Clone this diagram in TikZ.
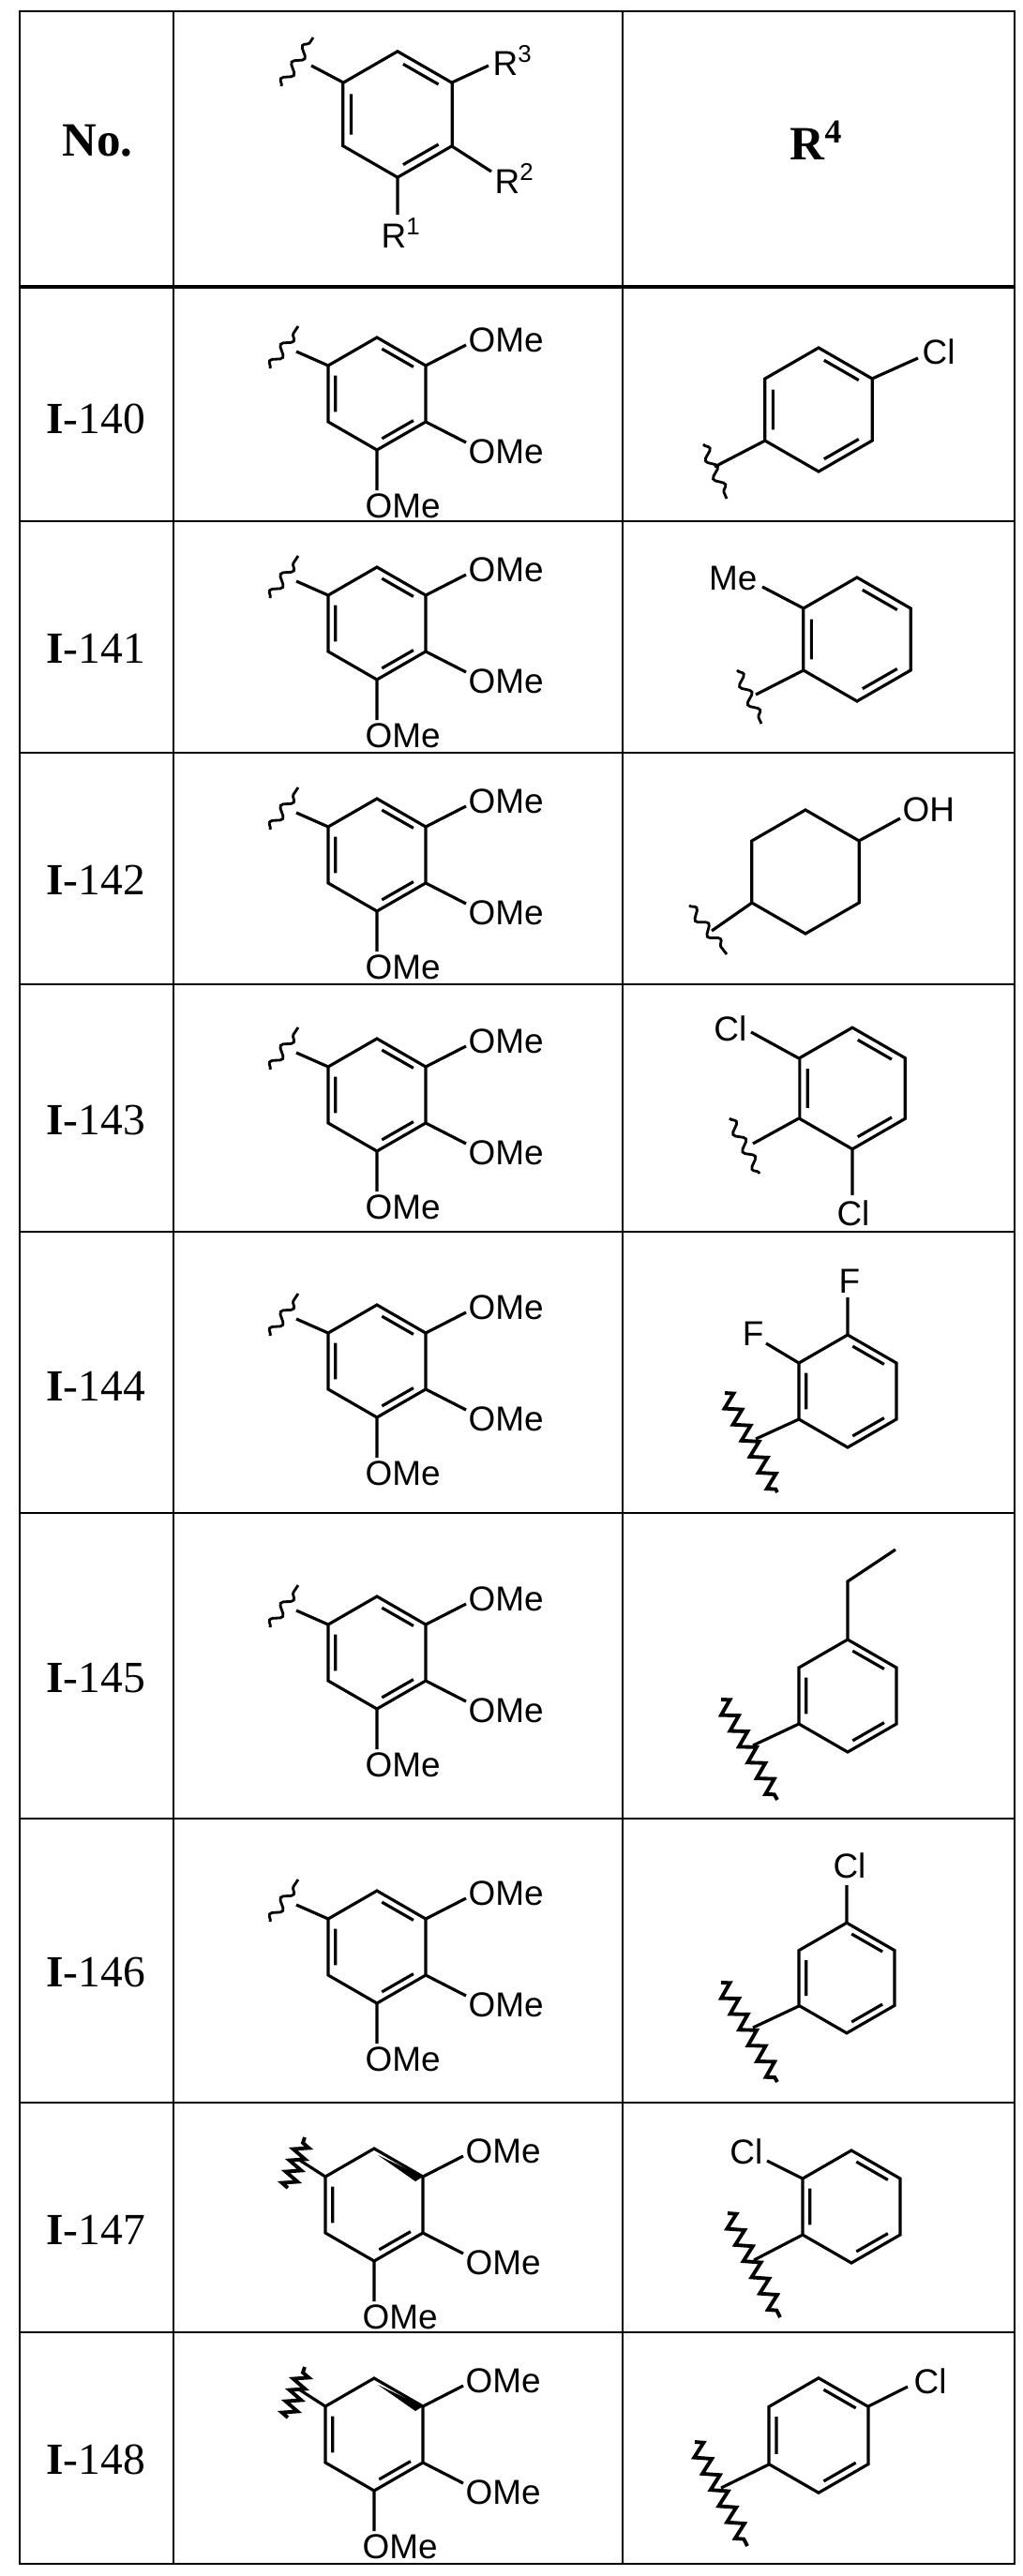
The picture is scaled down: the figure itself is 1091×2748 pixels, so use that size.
\documentclass[tikz,border=0pt]{standalone}
\usepackage{fontspec}
\setmainfont{Liberation Serif}
\newfontfamily\arfont{Liberation Sans}
\usetikzlibrary{decorations.pathmorphing}
\tikzset{
 bond/.style={line width=0.9pt,line join=miter},
 grid/.style={line width=0.7pt},
 chem/.style={font=\arfont\fontsize{10.5}{12}\selectfont,inner sep=0pt},
 lab/.style={font=\fontsize{13.5}{15}\selectfont,inner sep=0pt},
 head/.style={font=\bfseries\fontsize{14.5}{16}\selectfont,inner sep=0pt},
 wavy/.style={line width=0.8pt,decorate,decoration={snake,amplitude=1.4pt,segment length=6pt}},
 zz/.style={line width=1.1pt,decorate,decoration={zigzag,amplitude=2.3pt,segment length=5.5pt}},
 zzs/.style={line width=1.1pt,decorate,decoration={zigzag,amplitude=2.2pt,segment length=3.6pt}},
 ring/.pic={\draw[bond] (0,-60)--(52,-30)--(52,30)--(0,60)--(-52,30)--(-52,-30)--cycle;},
 benz/.pic={\draw[bond] (0,-60)--(52,-30)--(52,30)--(0,60)--(-52,30)--(-52,-30)--cycle;
   \draw[bond] (-44.2,-19.4)--(-44.2,19.4) (5.3,-47.9)--(38.9,-28.6) (38.9,28.6)--(5.3,47.9);},
 tmp/.pic={\pic {benz};
   \draw[bond] (52,-30)--(95,-52) (52,30)--(95,52) (0,60)--(0,103) (-52,-30)--(-86,-45);
   \draw[wavy] (-114,-27)--(-84,-72);
   \node[chem,anchor=west] (-a) at (97,-57) {OMe};
   \node[chem,anchor=west] (-b) at (97,62) {OMe};
   \node[chem,anchor=north west] (-c) at (-13,106) {OMe};},
 tmpb/.pic={\draw[bond] (0,-60)--(52,-30)--(52,30)--(0,60)--(-52,30)--(-52,-30)--cycle;
   \draw[bond] (-44.2,-19.4)--(-44.2,19.4) (38.9,28.6)--(5.3,47.9);
   \fill (4,-53)--(52,-30)--(44,-25)--cycle;
   \draw[bond] (52,-30)--(95,-52) (52,30)--(95,52) (0,60)--(0,103) (-52,-30)--(-80,-48);
   \draw[zzs] (-92,-18)--(-74,-72);
   \node[chem,anchor=west] (-a) at (97,-57) {OMe};
   \node[chem,anchor=west] (-b) at (97,62) {OMe};
   \node[chem,anchor=north west] (-c) at (-13,106) {OMe};}
}
\begin{document}
\begin{tikzpicture}[x=0.01cm,y=-0.01cm]
\useasboundingbox (0,0) rectangle (1091,2748);
% grid
\draw[grid] (21,12) rectangle (1082,2735);
\draw[grid] (185,12)--(185,2735) (664,12)--(664,2735);
\draw[line width=1.3pt] (21,306)--(1082,306);
\foreach \y in {556,803,1050,1314,1614,1940,2243,2488} \draw[grid] (21,\y)--(1082,\y);
% header
\node[head] (hno) at (104,150) {No.};
\node[head] (hr4) at (871,150) {R\textsuperscript{4}};
\pic[scale=1.12] (hring) at (424,122) {benz};
\draw[bond] (482,88)--(521,70) (482,156)--(524,183) (424,189)--(424,229) (366,88)--(332,70);
\draw[wavy] (300,92)--(334,40);
\node[chem,anchor=west] (hr3) at (525,64) {R\textsuperscript{3}};
\node[chem,anchor=west] (hr2) at (527,190) {R\textsuperscript{2}};
\node[chem,anchor=north] (hr1) at (428,232) {R\textsuperscript{1}};
% labels and middle column
\foreach \n/\c in {140/420,141/665,142/912,143/1168,144/1452,145/1763,146/2077}{
  \node[lab] (l\n) at (102,\c+27) {\textbf{I}-\n};
  \pic (m\n) at (402,\c) {tmp};
}
\foreach \n/\c in {147/2352,148/2597}{
  \node[lab] (l\n) at (102,\c+27) {\textbf{I}-\n};
  \pic (m\n) at (399,\c) {tmpb};
}
% I-140
\pic[scale=1.1] (r140) at (873,437) {benz};
\draw[bond] (930,404)--(979,382) (816,470)--(762,498);
\draw[wavy] (750,474)--(775,532);
\node[chem,anchor=west] (c140) at (983,375) {Cl};
% I-141
\pic[scale=1.1] (r141) at (914,682) {benz};
\draw[bond] (857,649)--(813,626) (857,715)--(806,741);
\draw[wavy] (786,715)--(812,772);
\node[chem,anchor=east] (c141) at (808,617) {Me};
% I-142
\pic[scale=1.1] (r142) at (859,930) {ring};
\draw[bond] (916,897)--(960,873) (802,963)--(759,993);
\draw[wavy] (735,966)--(775,1018);
\node[chem,anchor=west] (c142) at (962,864) {OH};
% I-143
\pic[scale=1.08] (r143) at (909,1161) {benz};
\draw[bond] (852,1129)--(801,1101) (852,1193)--(803,1220) (909,1226)--(909,1275);
\draw[wavy] (778,1193)--(810,1252);
\node[chem,anchor=east] (c143a) at (797,1097) {Cl};
\node[chem,anchor=north] (c143b) at (910,1280) {Cl};
% I-144
\pic (r144) at (904,1484) {benz};
\draw[bond] (904,1424)--(904,1384) (852,1454)--(817,1433) (852,1514)--(806,1535);
\draw[zz] (773,1486)--(829,1592);
\node[chem,anchor=south] (f144a) at (906,1380) {F};
\node[chem,anchor=east] (f144b) at (815,1423) {F};
% I-145
\pic (r145) at (904,1809) {benz};
\draw[bond] (904,1749)--(904,1687)--(955,1653) (852,1839)--(803,1862);
\draw[zz] (769,1813)--(829,1920);
% I-146
\pic[scale=0.98] (r146) at (903,2110) {benz};
\draw[bond] (903,2051)--(903,2011) (852,2140)--(803,2163);
\draw[zz] (769,2115)--(829,2221);
\node[chem,anchor=south] (c146) at (906,2005) {Cl};
% I-147
\pic (r147) at (908,2354) {benz};
\draw[bond] (856,2324)--(818,2305) (856,2384)--(804,2411);
\draw[zz] (776,2361)--(832,2472);
\node[chem,anchor=east] (c147) at (814,2295) {Cl};
% I-148
\pic[scale=1.02] (r148) at (873,2598) {benz};
\draw[bond] (926,2567)--(968,2546) (820,2629)--(769,2654);
\draw[zz] (741,2605)--(797,2716);
\node[chem,anchor=west] (c148) at (974,2540) {Cl};
\end{tikzpicture}
\end{document}
